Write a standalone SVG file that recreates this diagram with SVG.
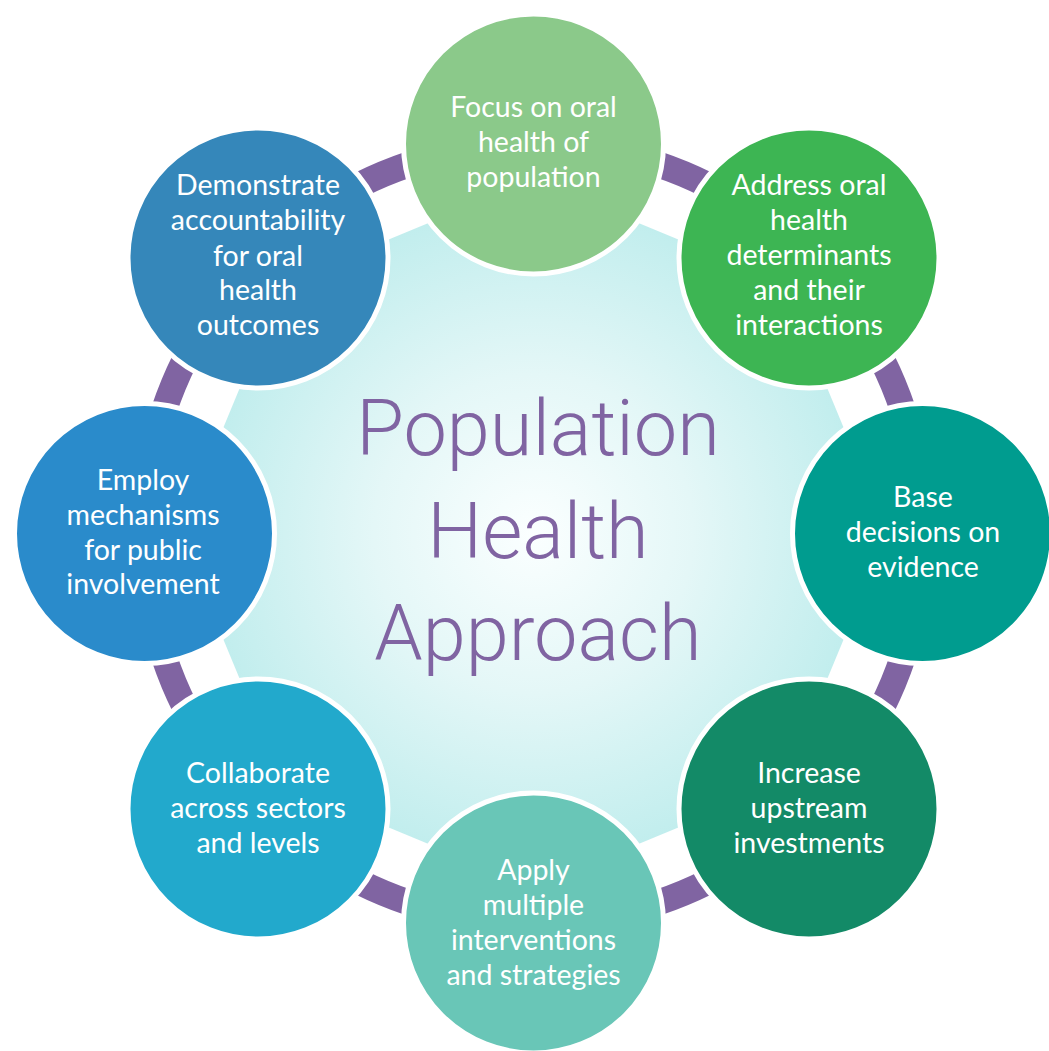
<svg xmlns="http://www.w3.org/2000/svg" xmlns:xlink="http://www.w3.org/1999/xlink" width="1049" height="1051" viewBox="0 0 1049 1051">
<defs>
<radialGradient id="bg" cx="533.5" cy="533.5" r="354" gradientUnits="userSpaceOnUse">
<stop offset="0" stop-color="#fbffff"/>
<stop offset="0.45" stop-color="#e4f7f7"/>
<stop offset="1" stop-color="#bcecec"/>
</radialGradient>
<path id="seg" d="M 385.71 -54.21 A 389.5 389.5 0 0 1 385.71 54.21"/>
</defs>
<style>
.seg{fill:none;stroke:#8064a2;stroke-width:26}
.node{stroke:#ffffff;stroke-width:5}
.lbl{font-family:Lato,"Open Sans","Liberation Sans",sans-serif;font-size:28.5px;fill:#ffffff;text-anchor:middle}
.title{font-family:Roboto,"Liberation Sans",sans-serif;font-weight:300;font-size:77.5px;fill:#8064a2;text-anchor:middle}
</style>
<rect width="1049" height="1051" fill="#ffffff"/>
<g id="center">
<polygon points="533.5,179.5 783.8,283.2 887.5,533.5 783.8,783.8 533.5,887.5 283.2,783.8 179.5,533.5 283.2,283.2" fill="url(#bg)"/>
<text class="title" x="538" y="455">Population</text>
<text class="title" x="538" y="558">Health</text>
<text class="title" x="538" y="660">Approach</text>
</g>
<g id="connectors">
<use xlink:href="#seg" class="seg" transform="translate(533.5 533.5) rotate(22.5)"/>
<use xlink:href="#seg" class="seg" transform="translate(533.5 533.5) rotate(67.5)"/>
<use xlink:href="#seg" class="seg" transform="translate(533.5 533.5) rotate(112.5)"/>
<use xlink:href="#seg" class="seg" transform="translate(533.5 533.5) rotate(157.5)"/>
<use xlink:href="#seg" class="seg" transform="translate(533.5 533.5) rotate(202.5)"/>
<use xlink:href="#seg" class="seg" transform="translate(533.5 533.5) rotate(247.5)"/>
<use xlink:href="#seg" class="seg" transform="translate(533.5 533.5) rotate(292.5)"/>
<use xlink:href="#seg" class="seg" transform="translate(533.5 533.5) rotate(337.5)"/>
</g>
<g id="n-focus">
<circle class="node" cx="533.5" cy="144" r="130" fill="#8bc98a"/>
<text class="lbl" x="533.5" y="117">Focus on oral</text>
<text class="lbl" x="533.5" y="152">health of</text>
<text class="lbl" x="533.5" y="187">population</text>
</g>
<g id="n-address">
<circle class="node" cx="809" cy="258" r="130" fill="#3db553"/>
<text class="lbl" x="809" y="195">Address oral</text>
<text class="lbl" x="809" y="230">health</text>
<text class="lbl" x="809" y="265">determinants</text>
<text class="lbl" x="809" y="300">and their</text>
<text class="lbl" x="809" y="335">interactions</text>
</g>
<g id="n-base">
<circle class="node" cx="922.5" cy="533.5" r="130" fill="#009c8f"/>
<text class="lbl" x="923" y="507">Base</text>
<text class="lbl" x="923" y="542">decisions on</text>
<text class="lbl" x="923" y="577">evidence</text>
</g>
<g id="n-increase">
<circle class="node" cx="809" cy="809" r="130" fill="#138a67"/>
<text class="lbl" x="809" y="783">Increase</text>
<text class="lbl" x="809" y="818">upstream</text>
<text class="lbl" x="809" y="853">investments</text>
</g>
<g id="n-apply">
<circle class="node" cx="533.5" cy="923" r="130" fill="#69c6b7"/>
<text class="lbl" x="533.5" y="880">Apply</text>
<text class="lbl" x="533.5" y="915">multiple</text>
<text class="lbl" x="533.5" y="950">interventions</text>
<text class="lbl" x="533.5" y="985">and strategies</text>
</g>
<g id="n-collaborate">
<circle class="node" cx="258" cy="809" r="130" fill="#22a9cc"/>
<text class="lbl" x="258" y="783">Collaborate</text>
<text class="lbl" x="258" y="818">across sectors</text>
<text class="lbl" x="258" y="853">and levels</text>
</g>
<g id="n-employ">
<circle class="node" cx="144.5" cy="533.5" r="130" fill="#2a8bcb"/>
<text class="lbl" x="143" y="490">Employ</text>
<text class="lbl" x="143" y="525">mechanisms</text>
<text class="lbl" x="143" y="560">for public</text>
<text class="lbl" x="143" y="594">involvement</text>
</g>
<g id="n-demonstrate">
<circle class="node" cx="258" cy="258" r="130" fill="#3587ba"/>
<text class="lbl" x="258" y="195">Demonstrate</text>
<text class="lbl" x="258" y="230">accountability</text>
<text class="lbl" x="258" y="266">for oral</text>
<text class="lbl" x="258" y="300">health</text>
<text class="lbl" x="258" y="335">outcomes</text>
</g>
</svg>
